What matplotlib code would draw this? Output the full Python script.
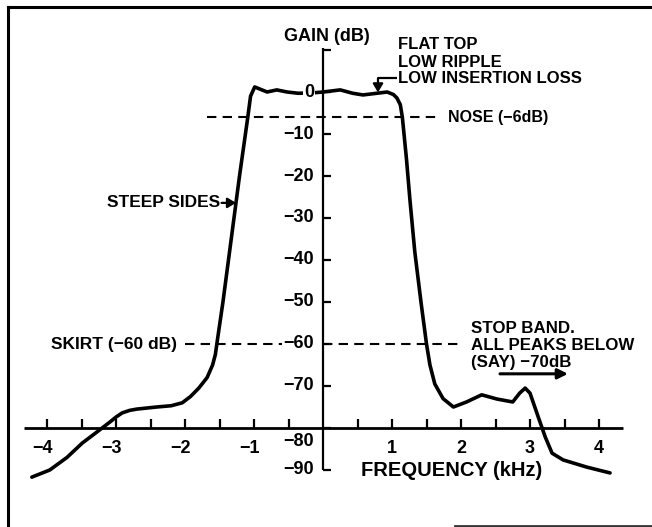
import numpy as np
import matplotlib.pyplot as plt
from matplotlib.lines import Line2D

# filter response trace (frequency in kHz, gain in dB)
freq = [-4.22, -3.96, -3.71, -3.49, -3.28, -3.09, -3.00, -2.91, -2.80, -2.70,
        -2.41, -2.20, -2.04, -1.92, -1.80, -1.68, -1.60, -1.56, -1.53, -1.45,
        -1.37, -1.29, -1.21, -1.15, -1.09, -1.05, -0.99, -0.93, -0.81, -0.67,
        -0.52, -0.36, -0.14, 0.00, 0.25, 0.43, 0.58, 0.78, 0.93, 1.02,
        1.07, 1.12, 1.15, 1.18, 1.21, 1.26, 1.33, 1.42, 1.50, 1.55,
        1.62, 1.74, 1.89, 2.08, 2.30, 2.52, 2.75, 2.85, 2.93, 3.00,
        3.12, 3.22, 3.32, 3.48, 3.82, 4.16]
gain = [-91.7, -90.0, -87.0, -83.6, -81.0, -78.6, -77.4, -76.4, -75.8, -75.5,
        -75.0, -74.7, -74.0, -72.5, -70.5, -68.0, -65.0, -62.5, -59.0, -50.0,
        -40.0, -30.0, -20.0, -13.0, -6.0, -1.0, 1.2, 0.8, 0.0, 0.5,
        0.0, -0.3, -0.2, 0.0, 0.5, -0.3, -0.7, -0.3, 0.0, -0.6,
        -1.4, -3.0, -6.0, -11.0, -16.0, -25.7, -38.0, -50.0, -60.0, -65.0,
        -69.5, -73.0, -75.0, -73.8, -72.1, -73.1, -73.8, -71.7, -70.5, -71.7,
        -77.4, -82.1, -86.0, -87.6, -89.3, -90.7]

x_ticks = [-4, -3, -2, -1, 1, 2, 3, 4]
x_minor = [-3.5, -2.5, -1.5, -0.5, 0.5, 1.5, 2.5, 3.5]
y_ticks = [10, 0, -10, -20, -30, -40, -50, -60, -70, -80, -90]
y_labels = ["", "0", "−10", "−20", "−30", "−40", "−50", "−60", "−70", "−80", "−90"]

nose_db = -6
skirt_db = -60

FONT = ['Liberation Sans', 'DejaVu Sans']
LW_AXIS = 1.6
LW_CURVE = 2.6

fig = plt.figure(figsize=(6.52, 5.27), dpi=100)
ax = fig.add_axes([0, 0, 1, 1])
# 69 px per kHz, 4.2 px per dB, origin at pixel (323, 92)
ax.set_xlim(-323 / 69, (652 - 323) / 69)
ax.set_ylim(-(527 - 92) / 4.2, 92 / 4.2)
ax.axis('off')

txt = dict(family=FONT, weight='bold', color='black')

# axes
ax.plot([0, 0], [-90, 10.5], color='black', lw=LW_AXIS, solid_capstyle='butt')
ax.plot([-4.33, 4.35], [-80, -80], color='black', lw=LW_AXIS + 0.4, solid_capstyle='butt')
for t in y_ticks:
    ax.plot([0, 0.12], [t, t], color='black', lw=LW_AXIS, solid_capstyle='butt')
for t in x_ticks + x_minor:
    ax.plot([t, t], [-80, -77.9], color='black', lw=LW_AXIS, solid_capstyle='butt')

# reference levels
ax.plot([-1.68, 1.70], [nose_db, nose_db], color='black', lw=1.5,
        dashes=(4.5, 3))
ax.plot([-2.0, -0.6], [skirt_db, skirt_db], color='black', lw=1.5,
        dashes=(4.5, 3))
ax.plot([0, 1.96], [skirt_db, skirt_db], color='black', lw=1.5,
        dashes=(4.5, 3))

# response curve
ax.plot(freq, gain, color='black', lw=LW_CURVE, solid_joinstyle='round',
        solid_capstyle='round', zorder=3)

# tick labels
for t, lab in zip(y_ticks, y_labels):
    if not lab:
        continue
    yy = t - 3.3 if t == -80 else t
    bbox = dict(facecolor='white', edgecolor='none', pad=0.5) if t == 0 else None
    ax.text(-0.13, yy, lab, ha='right', va='center', fontsize=13, bbox=bbox,
            zorder=4, **txt)
for t in x_ticks:
    lab = str(t) if t > 0 else "−%d" % abs(t)
    xx = t - 0.06 if t < 0 else t
    ax.text(xx, -84.8, lab, ha='center', va='center', fontsize=13, **txt)

ax.text(0.06, 13.1, "GAIN (dB)", ha='center', va='center', fontsize=13, **txt)
ax.text(1.87, -90, "FREQUENCY (kHz)", ha='center', va='center', fontsize=14.5, **txt)

# annotations
ax.text(1.81, nose_db, "NOSE (−6dB)", ha='left', va='center', fontsize=11.5, **txt)
ax.text(-2.12, skirt_db, "SKIRT (−60 dB)", ha='right', va='center', fontsize=12.5, **txt)

ax.text(1.087, 11.2, "FLAT TOP", ha='left', va='center', fontsize=12, **txt)
ax.text(1.087, 7.1, "LOW RIPPLE", ha='left', va='center', fontsize=12, **txt)
ax.text(1.087, 3.3, "LOW INSERTION LOSS", ha='left', va='center', fontsize=12, **txt)
ax.plot([1.07, 0.797], [3.3, 3.3], color='black', lw=1.6, solid_capstyle='butt')
ax.annotate("", xy=(0.797, -0.1), xytext=(0.797, 3.3),
            arrowprops=dict(arrowstyle='-|>,head_length=0.5,head_width=0.3',
                            color='black', lw=1.6, shrinkA=0, shrinkB=0))

ax.text(-1.49, -26.4, "STEEP SIDES", ha='right', va='center', fontsize=12.5, **txt)
ax.annotate("", xy=(-1.26, -26.4), xytext=(-1.47, -26.4),
            arrowprops=dict(arrowstyle='-|>,head_length=0.5,head_width=0.3',
                            color='black', lw=1.6, shrinkA=0, shrinkB=0))

ax.text(2.145, -56.2, "STOP BAND.", ha='left', va='center', fontsize=12.2, **txt)
ax.text(2.145, -60.3, "ALL PEAKS BELOW", ha='left', va='center', fontsize=12.2, **txt)
ax.text(2.145, -64.3, "(SAY) −70dB", ha='left', va='center', fontsize=12.2, **txt)
ax.annotate("", xy=(3.55, -67.1), xytext=(2.565, -67.1),
            arrowprops=dict(arrowstyle='-|>,head_length=0.6,head_width=0.3',
                            color='black', lw=2.2, shrinkA=0, shrinkB=0))

# page frame
fig.add_artist(Line2D([8 / 652, 1], [1 - 7 / 527, 1 - 7 / 527], color='black', lw=2.2))
fig.add_artist(Line2D([8 / 652, 8 / 652], [0, 1 - 7 / 527], color='black', lw=2.2))
fig.add_artist(Line2D([455 / 652, 1], [1.5 / 527, 1.5 / 527], color='#333333', lw=2))

fig.savefig("out.png", dpi=100, facecolor='white')
